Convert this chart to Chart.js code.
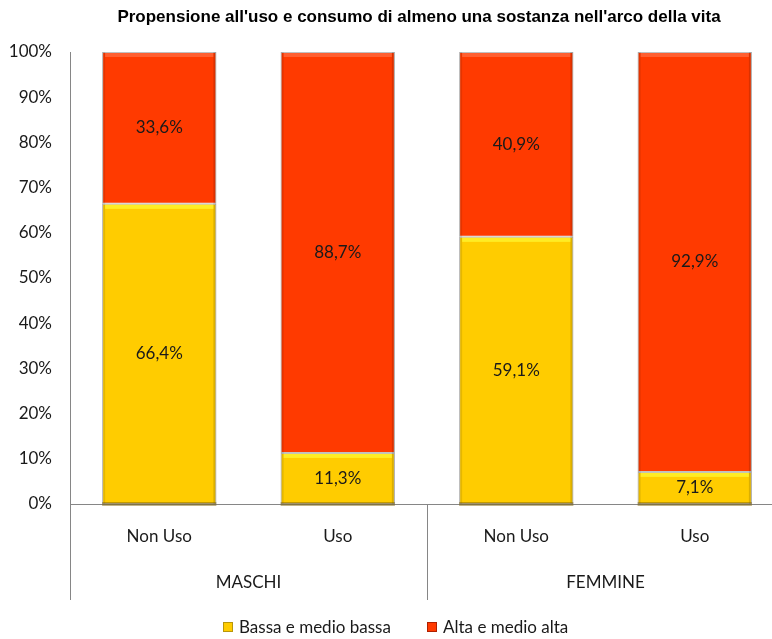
<!DOCTYPE html>
<html>
<head>
<meta charset="utf-8">
<script src="https://cdn.jsdelivr.net/npm/chart.js@4.4.1/dist/chart.umd.min.js"></script>
<style>
  html, body { margin: 0; padding: 0; background: #fff; overflow: hidden; }
  #wrap { width: 800px; height: 639px; }
</style>
</head>
<body>
<div id="wrap"><canvas id="c" width="800" height="639"></canvas></div>
<script>
// Propensione all'uso: quote per sesso e consumo
const categories = ['Non Uso', 'Uso', 'Non Uso', 'Uso'];
const groups = ['MASCHI', 'FEMMINE'];
const bassa = [66.4, 11.3, 59.1, 7.1];
const alta = [33.6, 88.7, 40.9, 92.9];
const seriesNames = ['Bassa e medio bassa', 'Alta e medio alta'];
const yTicks = [0, 10, 20, 30, 40, 50, 60, 70, 80, 90, 100];
const chartTitle = "Propensione all'uso e consumo di almeno una sostanza nell'arco della vita";

const YELLOW = '#FFCC00';
const RED = '#FF3A00';
const LINE = '#868686';
const TEXT = '#1a1a1a';
const FONT = 'Lato, "Open Sans", sans-serif';
const FS = 17;

function fmt(v) { return v.toFixed(1).replace('.', ',') + '%'; }

// bevel look for each bar segment
const bevel = {
  id: 'bevel',
  afterDatasetsDraw(chart) {
    const ctx = chart.ctx;
    chart.data.datasets.forEach((ds, di) => {
      const meta = chart.getDatasetMeta(di);
      meta.data.forEach(el => {
        const l = el.x - el.width / 2, r = el.x + el.width / 2;
        const t = Math.min(el.y, el.base), b = Math.max(el.y, el.base);
        ctx.save();
        ctx.fillStyle = 'rgba(0,0,0,0.10)';
        ctx.fillRect(l, t, 3, b - t);
        ctx.fillStyle = 'rgba(0,0,0,0.14)';
        ctx.fillRect(r - 3, t, 3, b - t);
        ctx.fillStyle = di === 0 ? 'rgba(255,240,40,0.9)' : 'rgba(255,120,80,0.6)';
        ctx.fillRect(l + 3, t + 1, r - l - 6, 4);
        if (di === 0) {
          ctx.fillStyle = 'rgba(120,90,0,0.45)';
          ctx.fillRect(l, b - 2, r - l, 4);
        }
        ctx.restore();
      });
    });
  }
};

// value labels, category groups, title and legend
const decor = {
  id: 'decor',
  afterDraw(chart) {
    const ctx = chart.ctx;
    const area = chart.chartArea;
    const xs = chart.scales.x;
    ctx.save();
    // segment values
    ctx.font = FS + 'px ' + FONT;
    ctx.fillStyle = TEXT;
    ctx.textAlign = 'center';
    ctx.textBaseline = 'middle';
    chart.data.datasets.forEach((ds, di) => {
      chart.getDatasetMeta(di).data.forEach((el, i) => {
        ctx.fillText(fmt(ds.data[i]), el.x, (el.y + el.base) / 2);
      });
    });
    // group separators
    ctx.strokeStyle = LINE;
    ctx.lineWidth = 1;
    const step = xs.getPixelForValue(1) - xs.getPixelForValue(0);
    const bottomY = 600;
    const seps = [area.left, xs.getPixelForValue(1) + step / 2, area.right];
    seps.forEach((sx, k) => {
      ctx.beginPath();
      const x = Math.round(sx) + 0.5;
      ctx.moveTo(x, k === 0 ? area.top : area.bottom);
      ctx.lineTo(x, bottomY);
      ctx.stroke();
    });
    // group labels
    groups.forEach((g, k) => {
      const cx = (xs.getPixelForValue(2 * k) + xs.getPixelForValue(2 * k + 1)) / 2;
      ctx.fillText(g, cx, 583);
    });
    // title
    ctx.font = 'bold 17px "Liberation Sans", Arial, sans-serif';
    ctx.fillStyle = '#000';
    ctx.fillText(chartTitle, 419, 17);
    // legend
    ctx.font = FS + 'px ' + FONT;
    ctx.textAlign = 'left';
    const items = [[223, YELLOW, '#B8960C'], [427, RED, '#B02000']];
    items.forEach(([lx, col, edge], k) => {
      ctx.fillStyle = edge;
      ctx.fillRect(lx, 622, 10, 10);
      ctx.fillStyle = col;
      ctx.fillRect(lx + 1, 623, 8, 8);
      ctx.fillStyle = TEXT;
      ctx.fillText(seriesNames[k], lx + 16, 628);
    });
    ctx.restore();
  }
};

new Chart(document.getElementById('c'), {
  type: 'bar',
  data: {
    labels: categories,
    datasets: [
      { label: seriesNames[0], data: bassa, backgroundColor: YELLOW,
        borderColor: 'rgba(150,150,150,0.6)', borderWidth: 1, borderSkipped: false },
      { label: seriesNames[1], data: alta, backgroundColor: RED,
        borderColor: 'rgba(150,150,150,0.6)', borderWidth: 1, borderSkipped: false }
    ]
  },
  options: {
    responsive: false,
    animation: false,
    devicePixelRatio: 1,
    layout: { padding: { top: 52, left: 0, right: 16, bottom: 0 } },
    plugins: {
      legend: { display: false },
      title: { display: false },
      tooltip: { enabled: false }
    },
    datasets: { bar: { barPercentage: 0.64, categoryPercentage: 1 } },
    scales: {
      x: {
        stacked: true,
        grid: { display: false, drawTicks: false },
        border: { display: true, color: LINE, width: 1 },
        ticks: { font: { family: FONT, size: FS }, color: TEXT, padding: 22, maxRotation: 0 },
        afterFit(s) { s.height = 135; }
      },
      y: {
        stacked: true,
        min: 0, max: 100,
        afterBuildTicks(s) { s.ticks = yTicks.map(v => ({ value: v })); },
        grid: { display: false, drawTicks: false },
        border: { display: true, color: LINE, width: 1 },
        ticks: { font: { family: FONT, size: FS }, color: TEXT, padding: 18,
                 callback: v => v + '%' },
        afterFit(s) { s.width = 70; }
      }
    }
  },
  plugins: [bevel, decor]
});
</script>
</body>
</html>
